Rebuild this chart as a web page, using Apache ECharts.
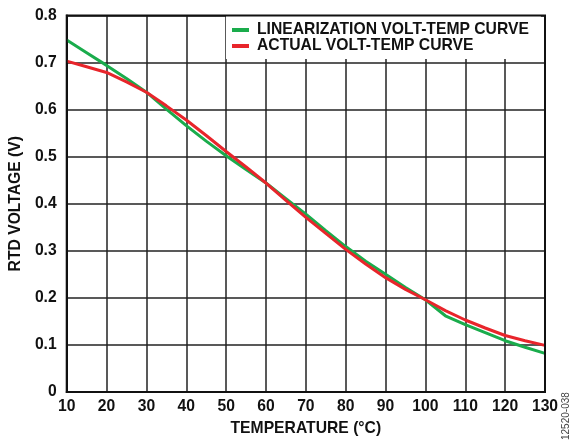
<!DOCTYPE html>
<html>
<head>
<meta charset="utf-8">
<script src="https://cdn.jsdelivr.net/npm/echarts@6/dist/echarts.min.js"></script>
<style>
html,body{margin:0;padding:0;background:#fff;}
#c{width:587px;height:442px;}
</style>
</head>
<body>
<div id="c"></div>
<script>
var temps = [10,15,20,25,30,35,40,45,50,55,60,65,70,75,80,85,90,95,100,105,110,115,120,125,130];
var linearCurve = [0.748,0.721,0.694,0.666,0.637,0.601,0.566,0.533,0.502,0.473,0.444,0.411,0.378,0.343,0.309,0.278,0.250,0.222,0.196,0.162,0.143,0.126,0.109,0.095,0.082];
var actualCurve = [0.703,0.691,0.679,0.659,0.637,0.608,0.578,0.545,0.511,0.478,0.444,0.407,0.371,0.337,0.303,0.272,0.243,0.218,0.196,0.173,0.153,0.136,0.120,0.109,0.099];
var seriesNames = ['LINEARIZATION VOLT-TEMP CURVE','ACTUAL VOLT-TEMP CURVE'];
var xTicks = {min:10, max:130, step:10};
var yTicks = {min:0, max:0.8, step:0.1};

var FONT = 'Liberation Sans, Arial, Helvetica, sans-serif';
var FS = 15.7;
function pairs(xs, ys){ return xs.map(function(x,i){ return [x, ys[i]]; }); }

var chart = echarts.init(document.getElementById('c'), null, {renderer:'canvas'});
chart.setOption({
  animation:false,
  backgroundColor:'#fff',
  grid:{left:65, right:42, top:15.5, bottom:45, show:true, borderColor:'#111', borderWidth:2, z:10, backgroundColor:'transparent'},
  legend:{
    orient:'vertical', left:226, top:16,
    padding:[6,12,5,6], itemGap:0,
    backgroundColor:'#fff',
    itemWidth:17, itemHeight:4, icon:'rect',
    textStyle:{fontFamily:FONT, fontWeight:'bold', fontSize:FS, color:'#111', lineHeight:16, padding:[0,0,0,3]},
    data:seriesNames
  },
  xAxis:{
    type:'value', min:xTicks.min, max:xTicks.max, interval:xTicks.step,
    name:'TEMPERATURE (°C)', nameLocation:'middle', nameGap:29,
    nameTextStyle:{fontFamily:FONT, fontWeight:'bold', fontSize:FS, color:'#111'},
    axisLine:{show:true, lineStyle:{color:'#111', width:2}},
    axisTick:{show:false},
    axisLabel:{fontFamily:FONT, fontWeight:'bold', fontSize:FS, color:'#111', margin:7},
    splitLine:{show:true, lineStyle:{color:'#222', width:1.5}}
  },
  yAxis:{
    type:'value', min:yTicks.min, max:yTicks.max, interval:yTicks.step,
    name:'RTD VOLTAGE (V)', nameLocation:'middle', nameGap:39,
    nameTextStyle:{fontFamily:FONT, fontWeight:'bold', fontSize:FS, color:'#111'},
    axisLine:{show:true, lineStyle:{color:'#111', width:2}},
    axisTick:{show:false},
    axisLabel:{fontFamily:FONT, fontWeight:'bold', fontSize:FS, color:'#111', margin:10,
      formatter:function(v){ return v===0 ? '0' : v.toFixed(1); }},
    splitLine:{show:true, lineStyle:{color:'#222', width:1.5}}
  },
  series:[
    {name:seriesNames[0], type:'line', data:pairs(temps, linearCurve), showSymbol:false, symbol:'none',
     lineStyle:{color:'#1aac4c', width:3}, itemStyle:{color:'#1aac4c'}, z:3},
    {name:seriesNames[1], type:'line', data:pairs(temps, actualCurve), showSymbol:false, symbol:'none',
     lineStyle:{color:'#e8252b', width:3}, itemStyle:{color:'#e8252b'}, z:4}
  ],
  graphic:[{
    type:'text', x:566, y:440, rotation:Math.PI/2,
    style:{text:'12520-038', fontFamily:FONT, fontSize:10, fill:'#444', align:'left', verticalAlign:'middle'}
  }]
});
</script>
</body>
</html>
